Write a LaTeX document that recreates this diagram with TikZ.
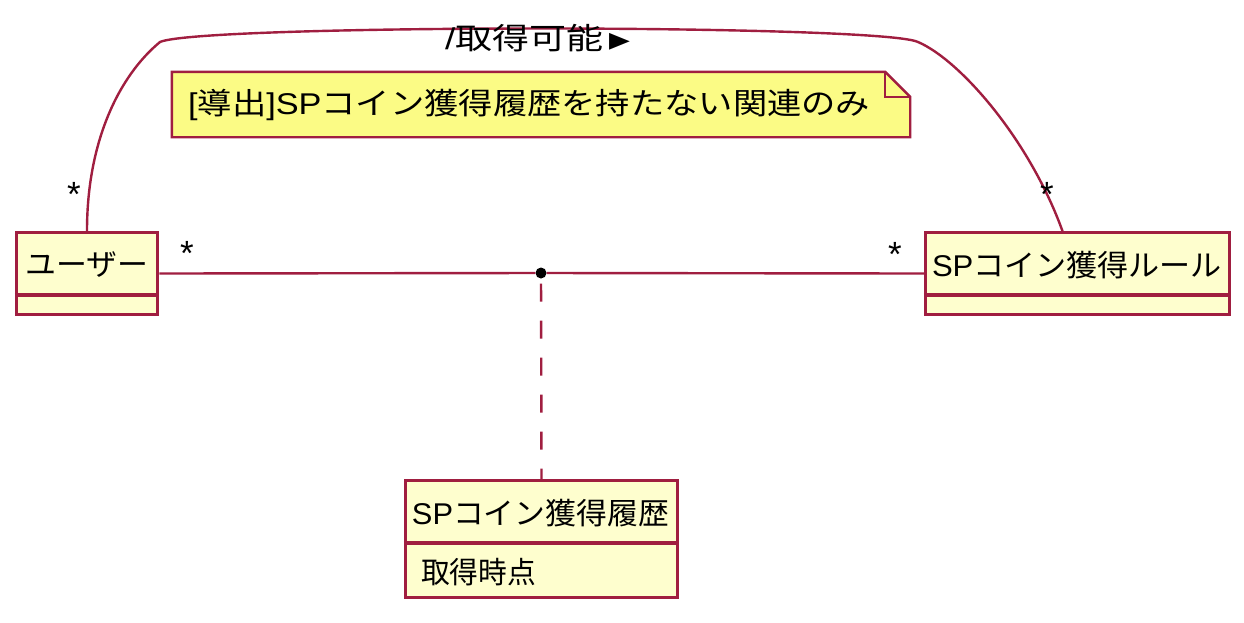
\documentclass[tikz,border=0pt]{standalone}
\usepackage{fontspec}
\usepackage{graphicx}
\setmainfont{Liberation Sans}
\newfontfamily\cjk{Noto Sans CJK JP}
\newfontfamily\symf{DejaVu Sans}
\definecolor{umlred}{HTML}{A01E40}
\definecolor{classfill}{HTML}{FEFECE}
\definecolor{notefill}{HTML}{FBFB85}
\newcommand{\fitw}[2]{\resizebox{#1pt}{\height}{#2}}
\begin{document}
\begin{tikzpicture}[x=1pt,y=-1pt,
  classbox/.style={draw=umlred, fill=classfill, line width=3.5pt, inner sep=0pt, rectangle},
  sepline/.style={draw=umlred, line width=3.5pt},
  conn/.style={draw=umlred, line width=2.4pt},
  notebox/.style={draw=umlred, fill=notefill, line width=2.4pt, line join=miter},
  txt/.style={inner sep=0pt, font=\fontsize{30}{34}\selectfont, text=black},
  mult/.style={inner sep=0pt, font=\fontsize{35}{38}\selectfont, text=black},
  assocdot/.style={circle, fill=black, inner sep=0pt, minimum size=11pt}
]
\useasboundingbox (0,0) rectangle (1244,622);
\fill[white] (0,0) rectangle (1244,622);

% class boxes
\node[classbox, minimum width=141pt, minimum height=82pt] (user) at (87,273.5) {};
\node[classbox, minimum width=304pt, minimum height=82pt] (rule) at (1077.5,273.5) {};
\node[classbox, minimum width=272pt, minimum height=117pt] (hist) at (541.5,539) {};
\draw[sepline] (user.west |- 0,295) -- (user.east |- 0,295);
\draw[sepline] (rule.west |- 0,295) -- (rule.east |- 0,295);
\draw[sepline] (hist.west |- 0,543) -- (hist.east |- 0,543);

\node[txt] (usert) at (87,265) {\fitw{123}{{\cjk ユーザー}}};
\node[txt] (rulet) at (1077,265) {\fitw{290}{SP{\cjk コイン獲得ルール}}};
\node[txt] (histt) at (540.5,513) {\fitw{257}{SP{\cjk コイン獲得履歴}}};
\node[txt, anchor=west] (histattr) at (421,572) {\fitw{115}{{\cjk 取得時点}}};

% note
\node[minimum width=738pt, minimum height=65pt, inner sep=0pt] (note) at (541,104.5) {};
\draw[notebox] (note.north west) -- ([xshift=-25pt]note.north east) -- ([yshift=-25pt]note.north east) -- (note.south east) -- (note.south west) -- cycle;
\draw[notebox, fill=none] ([xshift=-25pt]note.north east) -- ([xshift=-25pt,yshift=-25pt]note.north east) -- ([yshift=-25pt]note.north east);
\node[txt, anchor=west] (notet) at (188,105) {\fitw{682}{[{\cjk 導出}]SP{\cjk コイン獲得履歴を持たない関連のみ}}};

% association with class
\node[assocdot] (dot) at (541,273) {};
\draw[conn] (user.east) -- (dot) -- (rule.west);
\draw[conn, dash pattern=on 18pt off 19pt, dash phase=32pt] (dot) -- (hist.north);

% derived association
\coordinate (lt) at (160,42);
\coordinate (rt) at (918,42);
\coordinate (re) at (1063,232.5);
\draw[conn] (user.north) .. controls (87,140) and (120,75) .. (lt)
  .. controls (200,24) and (880,24) .. (rt)
  .. controls (960,60) and (1030,140) .. (re);
\node[txt] (assoclbl) at (537.5,38) {\fitw{185}{/{\cjk 取得可能}\,\raisebox{2pt}{\symf\fontsize{22}{24}\selectfont ▶}}};

% multiplicities
\node[mult] (m1) at (74,194) {*};
\node[mult] (m2) at (187,253) {*};
\node[mult] (m3) at (895,254) {*};
\node[mult] (m4) at (1047,194) {*};
\end{tikzpicture}
\end{document}
